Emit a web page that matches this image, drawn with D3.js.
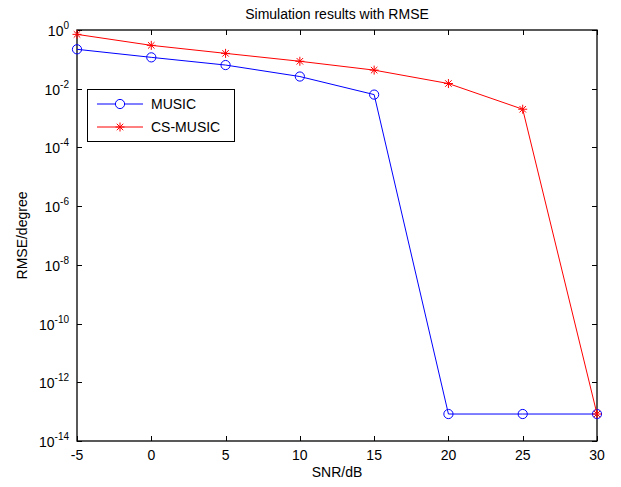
<!DOCTYPE html>
<html>
<head>
<meta charset="utf-8">
<script src="https://cdn.jsdelivr.net/npm/d3@7"></script>
<style>
  body { margin: 0; background: #fff; }
  text { font-family: "Liberation Sans", Arial, sans-serif; }
</style>
</head>
<body>
<div id="chart"></div>
<script>
// chart data
var snr = [-5, 0, 5, 10, 15, 20, 25, 30];
var musicRmse = [0.22, 0.117, 0.064, 0.026, 0.0063, 8.3e-14, 8.3e-14, 8.3e-14];
var csMusicRmse = [0.71, 0.30, 0.16, 0.086, 0.043, 0.015, 0.002, 8.3e-14];
var xTicks = [-5, 0, 5, 10, 15, 20, 25, 30];
var yTickExps = [0, -2, -4, -6, -8, -10, -12, -14];
var seriesNames = ["MUSIC", "CS-MUSIC"];

(function () {
    var width = 621, height = 487;
    var margin = {top: 30, right: 24, bottom: 46, left: 77};
    var w = width - margin.left - margin.right;
    var h = height - margin.top - margin.bottom;

    var svg = d3.select("#chart").append("svg")
        .attr("width", width)
        .attr("height", height);

    var g = svg.append("g")
        .attr("transform", "translate(" + margin.left + "," + margin.top + ")");

    var x = d3.scaleLinear().domain([-5, 30]).range([0, w]);
    var y = d3.scaleLog().domain([1e-14, 1]).range([h, 0]);

    // ticks, inside on all four sides
    var tickLen = 5;
    var tg = g.append("g").attr("stroke", "#000").attr("stroke-width", 1);
    xTicks.forEach(function (t) {
        var px = Math.round(x(t)) + 0.5;
        tg.append("line").attr("x1", px).attr("x2", px).attr("y1", h).attr("y2", h - tickLen);
        tg.append("line").attr("x1", px).attr("x2", px).attr("y1", 0).attr("y2", tickLen);
    });
    yTickExps.forEach(function (e) {
        var py = Math.round(y(Math.pow(10, e))) + 0.5;
        tg.append("line").attr("x1", 0).attr("x2", tickLen).attr("y1", py).attr("y2", py);
        tg.append("line").attr("x1", w).attr("x2", w - tickLen).attr("y1", py).attr("y2", py);
    });

    // frame
    g.append("rect")
        .attr("x", 0).attr("y", 0).attr("width", w).attr("height", h)
        .attr("fill", "none").attr("stroke", "#000").attr("stroke-width", 1.3);

    // x tick labels
    g.selectAll(".xlab").data(xTicks).enter().append("text")
        .attr("x", function (d) { return x(d); })
        .attr("y", h + 19)
        .attr("text-anchor", "middle")
        .style("font-size", "14px")
        .text(function (d) { return d; });

    // y tick labels 10^e
    var yl = g.selectAll(".ylab").data(yTickExps).enter().append("text")
        .attr("x", -8)
        .attr("y", function (d) { return y(Math.pow(10, d)) + 6; })
        .attr("text-anchor", "end")
        .style("font-size", "14px");
    yl.append("tspan").text("10");
    yl.append("tspan").attr("dy", -7).style("font-size", "10px").text(function (d) { return d; });

    // axis titles
    svg.append("text")
        .attr("x", margin.left + w / 2).attr("y", 477)
        .attr("text-anchor", "middle").style("font-size", "14px")
        .text("SNR/dB");
    svg.append("text")
        .attr("transform", "translate(27," + (margin.top + h / 2) + ") rotate(-90)")
        .attr("text-anchor", "middle").style("font-size", "14px")
        .text("RMSE/degree");
    svg.append("text")
        .attr("x", margin.left + w / 2).attr("y", 19)
        .attr("text-anchor", "middle").style("font-size", "14px")
        .text("Simulation results with RMSE");

    var line = d3.line()
        .x(function (d) { return x(d[0]); })
        .y(function (d) { return y(d[1]); });

    function starPath(r) {
        var rd = r * 0.72;
        return "M" + (-r) + ",0L" + r + ",0M0," + (-r) + "L0," + r +
            "M" + (-rd) + "," + (-rd) + "L" + rd + "," + rd +
            "M" + (-rd) + "," + rd + "L" + rd + "," + (-rd);
    }

    var musicPts = snr.map(function (s, i) { return [s, musicRmse[i]]; });
    var csPts = snr.map(function (s, i) { return [s, csMusicRmse[i]]; });

    // MUSIC
    g.append("path").attr("d", line(musicPts))
        .attr("fill", "none").attr("stroke", "#0000ff").attr("stroke-width", 1);
    g.selectAll(".mc").data(musicPts).enter().append("circle")
        .attr("cx", function (d) { return x(d[0]); })
        .attr("cy", function (d) { return y(d[1]); })
        .attr("r", 4.6)
        .attr("fill", "none").attr("stroke", "#0000ff").attr("stroke-width", 1);

    // CS-MUSIC
    g.append("path").attr("d", line(csPts))
        .attr("fill", "none").attr("stroke", "#ff0000").attr("stroke-width", 1);
    g.selectAll(".cs").data(csPts).enter().append("path")
        .attr("transform", function (d) { return "translate(" + x(d[0]) + "," + y(d[1]) + ")"; })
        .attr("d", starPath(4.5))
        .attr("fill", "none").attr("stroke", "#ff0000").attr("stroke-width", 1);

    // legend
    var lg = svg.append("g").attr("transform", "translate(87,89)");
    lg.append("rect").attr("x", 0.5).attr("y", 0.5).attr("width", 147).attr("height", 52)
        .attr("fill", "#fff").attr("stroke", "#000").attr("stroke-width", 1);
    var colors = ["#0000ff", "#ff0000"];
    seriesNames.forEach(function (name, i) {
        var ly = 15 + i * 23;
        lg.append("line").attr("x1", 10).attr("x2", 56).attr("y1", ly).attr("y2", ly)
            .attr("stroke", colors[i]).attr("stroke-width", 1);
        if (i === 0) {
            lg.append("circle").attr("cx", 33).attr("cy", ly).attr("r", 4.6)
                .attr("fill", "#fff").attr("stroke", colors[i]);
        } else {
            lg.append("path").attr("transform", "translate(33," + ly + ")")
                .attr("d", starPath(4.5)).attr("fill", "none").attr("stroke", colors[i]);
        }
        lg.append("text").attr("x", 64).attr("y", ly + 5)
            .style("font-size", "14px").text(name);
    });
}());
</script>
</body>
</html>
